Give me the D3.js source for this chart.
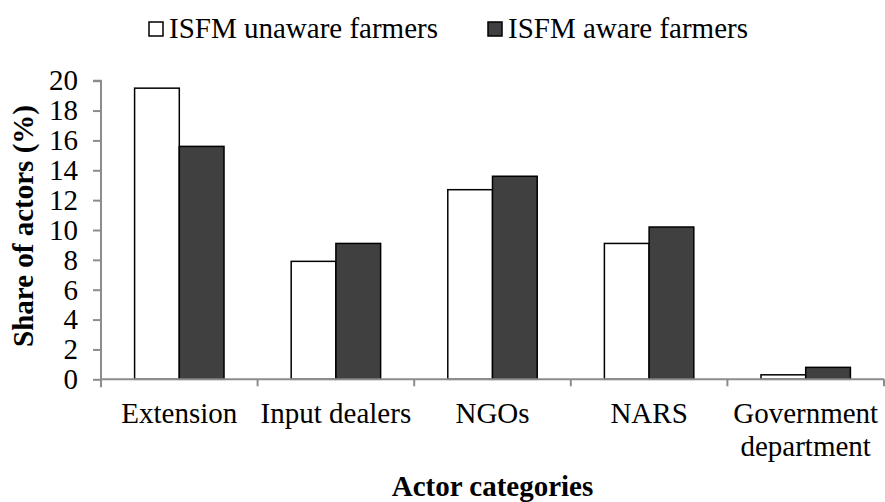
<!DOCTYPE html>
<html>
<head>
<meta charset="utf-8">
<script src="https://cdn.jsdelivr.net/npm/d3@7"></script>
<style>
  html, body { margin: 0; padding: 0; background: #fff; }
  svg { display: block; }
  svg text { font-family: "Liberation Serif", "Times New Roman", Times, Tinos, "DejaVu Serif", serif !important; fill: #000; }
</style>
</head>
<body>
<svg id="chart" width="885" height="502"></svg>
<script>
const categories = ["Extension", "Input dealers", "NGOs", "NARS", "Government department"];
const categoryLines = [["Extension"], ["Input dealers"], ["NGOs"], ["NARS"], ["Government", "department"]];
const seriesNames = ["ISFM unaware farmers", "ISFM aware farmers"];
const unaware = [19.5, 7.9, 12.7, 9.1, 0.3];
const aware = [15.6, 9.1, 13.6, 10.2, 0.8];
const yTicks = [0, 2, 4, 6, 8, 10, 12, 14, 16, 18, 20];
const yTitle = "Share of actors (%)";
const xTitle = "Actor categories";

(function () {
const seriesValues = [unaware, aware];
const fills = ["#ffffff", "#404040"];
const FONT = "'Liberation Serif', 'Times New Roman', Times, Tinos, 'DejaVu Serif', serif";

const svg = d3.select("#chart");
const pLeft = 101, pRight = 884, pTop = 80.7, pBottom = 379.3;
const FS = 29;

const x0 = d3.scaleBand().domain(categories).range([pLeft, pRight]).paddingInner(0).paddingOuter(0);
const bw = x0.bandwidth();
const x1 = d3.scaleBand().domain(seriesNames).range([bw * 0.2145, bw * 0.7855]).padding(0);
const y = d3.scaleLinear().domain([0, 20]).range([pBottom, pTop]);

const axisColor = "#8c8c8c";

// bars
const groups = svg.append("g").selectAll("g")
  .data(categories)
  .join("g")
  .attr("transform", d => `translate(${x0(d)},0)`);

groups.selectAll("rect")
  .data((d, i) => seriesNames.map((s, k) => ({ s, k, v: seriesValues[k][i] })))
  .join("rect")
  .attr("x", d => x1(d.s))
  .attr("width", x1.bandwidth())
  .attr("y", d => y(d.v))
  .attr("height", d => y(0) - y(d.v))
  .attr("fill", d => fills[d.k])
  .attr("stroke", "#000")
  .attr("stroke-width", 1.5);

// y axis
const yAxis = svg.append("g")
  .attr("transform", `translate(${pLeft},0)`)
  .call(d3.axisLeft(y).tickValues(yTicks).tickSize(8).tickPadding(15).tickFormat(d3.format("d")));
yAxis.attr("font-family", FONT).attr("font-size", FS);
yAxis.select(".domain").attr("stroke", axisColor).attr("stroke-width", 2).attr("d", `M-8,${pTop}H0V${pBottom + 8}`);
yAxis.selectAll(".tick line").attr("stroke", axisColor).attr("stroke-width", 2);
yAxis.selectAll(".tick text")
  .style("font-family", FONT)
  .attr("font-size", FS)
  .attr("fill", "#000");

// x axis line with boundary ticks
const boundaries = categories.map(c => x0(c)).concat([pRight]);
const xAxisG = svg.append("g");
xAxisG.append("line")
  .attr("x1", pLeft).attr("x2", pRight).attr("y1", pBottom).attr("y2", pBottom)
  .attr("stroke", axisColor).attr("stroke-width", 2);
xAxisG.selectAll("line.bt")
  .data(boundaries)
  .join("line")
  .attr("class", "bt")
  .attr("x1", d => d).attr("x2", d => d)
  .attr("y1", pBottom).attr("y2", pBottom + 7)
  .attr("stroke", axisColor).attr("stroke-width", 2);

// category labels
const labels = svg.append("g").selectAll("text")
  .data(categories)
  .join("text")
  .attr("x", d => x0(d) + bw / 2)
  .attr("y", 423)
  .attr("text-anchor", "middle")
  .style("font-family", FONT)
  .attr("font-size", FS);
labels.each(function (d, i) {
  const t = d3.select(this);
  categoryLines[i].forEach((line, j) => {
    t.append("tspan").attr("x", x0(d) + bw / 2).attr("dy", j === 0 ? 0 : 33).text(line);
  });
});

// axis titles
svg.append("text")
  .attr("x", (pLeft + pRight) / 2)
  .attr("y", 496)
  .attr("text-anchor", "middle")
  .attr("font-weight", "bold")
  .style("font-family", FONT)
  .attr("font-size", FS)
  .text(xTitle);

svg.append("text")
  .attr("transform", `translate(33,226) rotate(-90)`)
  .attr("text-anchor", "middle")
  .attr("font-weight", "bold")
  .style("font-family", FONT)
  .attr("font-size", FS)
  .text(yTitle);

// legend
const legendX = [149, 488];
const legend = svg.append("g").selectAll("g")
  .data(seriesNames)
  .join("g")
  .attr("transform", (d, i) => `translate(${legendX[i]},0)`);
legend.append("rect")
  .attr("x", 0).attr("y", 22)
  .attr("width", 14).attr("height", 14)
  .attr("fill", (d, i) => fills[i])
  .attr("stroke", "#000")
  .attr("stroke-width", 1.5);
legend.append("text")
  .attr("x", 20)
  .attr("y", 38)
  .style("font-family", FONT)
  .attr("font-size", FS)
  .text(d => d);
})();
</script>
</body>
</html>
